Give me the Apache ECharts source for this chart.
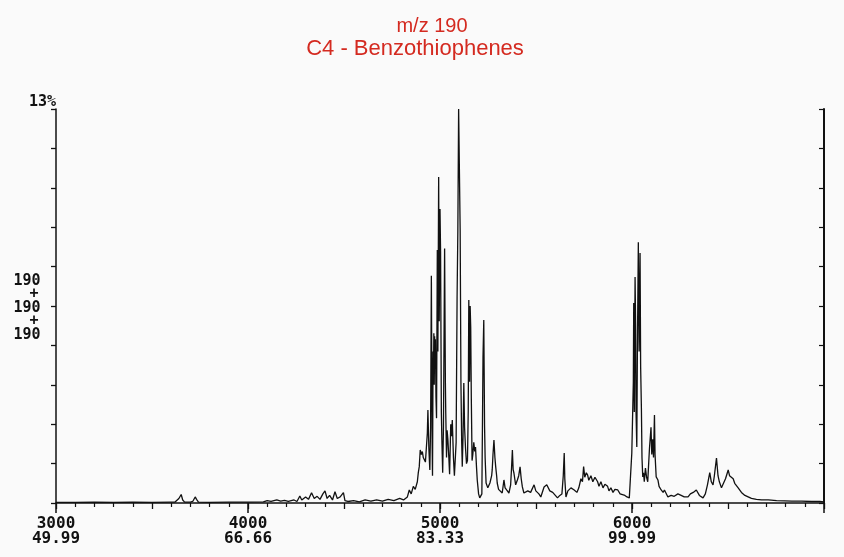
<!DOCTYPE html>
<html>
<head>
<meta charset="utf-8">
<script src="https://cdn.jsdelivr.net/npm/echarts@6/dist/echarts.min.js"></script>
<style>
html,body{margin:0;padding:0;background:#fafafa;}
#c{width:844px;height:557px;}
</style>
</head>
<body>
<div id="c"></div>
<script>
// Scan numbers (x) and relative intensity in % (y)
const scans = [
3000,3100,3200,3300,3400,3500,3600,3620,3640,3652,3660,3670,3700,3712,3725,3732,3742,3800,3900,4000,
4080,4100,4120,4150,4170,4190,4210,4240,4255,4270,4280,4300,4315,4331,4345,4360,4375,4390,4401,4412,
4425,4440,4453,4465,4480,4497,4505,4520,4550,4580,4610,4640,4670,4700,4730,4760,4790,4810,4830,
4840,4850,4861,4871,4882,4887,4892,4897,4903,4908,4913,4918,4924,4929,4934,4937,4942,4947,4951,4955,
4959,4961,4964,4966,4968,4970,4972,4974,4976,4979,4982,4986,4989,4993,4996,5000,5003,5007,5010,5014,
5018,5024,5028,5030,5034,5037,5041,5046,5050,5056,5060,5064,5070,5075,5080,5084,5089,5093,5097,5101,
5105,5109,5113,5116,5120,5124,5128,5133,5138,5143,5147,5150,5154,5157,5160,5163,5167,5171,5176,5181,
5185,5190,5194,5201,5207,5213,5218,5221,5224,5228,5232,5235,5240,5249,5260,5269,5272,5276,5281,5286,
5290,5295,5298,5305,5312,5324,5333,5339,5347,5359,5368,5373,5377,5381,5385,5394,5403,5410,5417,5423,
5429,5437,5446,5457,5472,5490,5499,5515,5525,5542,5556,5572,5587,5612,5624,5635,5642,5647,5650,5656,
5666,5682,5699,5713,5723,5734,5742,5748,5754,5762,5769,5775,5786,5796,5807,5821,5828,5838,5849,5859,
5873,5880,5890,5901,5911,5926,5938,5948,5963,5974,5986,5995,5999,6004,6007,6009,6012,6016,6019,6021,
6025,6028,6033,6037,6042,6045,6049,6052,6056,6060,6064,6070,6076,6082,6086,6091,6099,6103,6108,6112,
6117,6120,6126,6135,6141,6152,6162,6169,6187,6204,6220,6239,6256,6272,6292,6304,6319,6335,6351,6370,
6382,6393,6405,6413,6422,6429,6440,6448,6455,6466,6476,6487,6501,6508,6518,6527,6535,6544,6553,6570,
6588,6605,6622,6648,6675,6710,6753,6795,6832,6884,6936,6978,7000
];
const intensity = [
0.02,0.02,0.03,0.02,0.03,0.02,0.03,0.03,0.15,0.28,0.10,0.03,0.03,0.05,0.20,0.12,0.03,0.02,0.03,0.03,
0.04,0.08,0.05,0.10,0.06,0.09,0.05,0.10,0.05,0.23,0.10,0.20,0.12,0.34,0.15,0.22,0.12,0.30,0.40,0.15,
0.25,0.10,0.37,0.15,0.20,0.34,0.08,0.05,0.08,0.04,0.10,0.06,0.10,0.06,0.12,0.08,0.15,0.10,0.20,
0.43,0.30,0.55,0.45,0.70,1.00,1.20,1.75,1.60,1.70,1.50,1.55,1.35,1.40,2.30,3.07,1.80,1.09,2.50,7.50,
2.00,0.90,5.00,4.20,5.60,3.90,5.50,4.50,5.40,3.50,2.80,8.35,5.00,10.76,6.00,9.70,8.30,3.00,2.00,1.00,
2.50,8.40,4.00,2.97,1.50,2.40,2.10,1.50,0.95,2.60,2.20,2.74,1.50,0.90,0.85,2.00,6.80,9.00,13.00,11.00,
9.00,4.00,2.00,1.20,2.20,3.96,2.50,1.80,1.30,1.40,3.00,6.70,4.00,6.50,5.80,3.50,1.40,1.60,2.00,1.70,
1.85,1.20,0.76,0.30,0.17,0.20,0.30,2.50,4.80,6.04,2.57,1.50,0.66,0.50,0.66,0.90,1.10,1.60,2.08,1.50,
1.20,0.90,0.66,0.45,0.43,0.33,0.76,0.50,0.43,0.33,0.60,1.20,1.75,1.10,0.99,0.60,0.76,0.90,1.19,0.80,
0.53,0.33,0.33,0.40,0.35,0.60,0.40,0.30,0.20,0.53,0.60,0.40,0.35,0.17,0.25,0.30,0.90,1.65,0.80,0.20,
0.40,0.50,0.43,0.35,0.50,0.80,0.70,1.20,0.85,1.00,0.92,0.75,0.90,0.70,0.85,0.70,0.55,0.70,0.50,0.62,
0.55,0.40,0.50,0.35,0.45,0.43,0.30,0.35,0.25,0.20,0.17,0.15,1.65,1.65,4.00,6.60,3.00,7.46,5.80,3.00,
1.85,5.00,8.60,5.00,8.25,4.50,3.10,1.50,0.86,1.00,0.70,1.15,0.85,0.70,1.20,1.80,2.50,1.60,2.10,1.50,
2.90,1.60,0.86,0.76,0.55,0.43,0.35,0.43,0.20,0.25,0.22,0.30,0.25,0.20,0.20,0.30,0.35,0.43,0.25,0.17,
0.30,0.60,1.00,0.70,0.60,0.90,1.48,0.90,0.70,0.50,0.50,0.80,1.09,0.90,0.95,0.80,0.65,0.60,0.50,0.35,
0.25,0.20,0.15,0.12,0.10,0.10,0.08,0.07,0.06,0.06,0.05,0.05,0.04
];
// Axis tick labels: scan number and retention time (min)
const scanTicks = [3000, 4000, 5000, 6000];
const timeTicks = ['49.99', '66.66', '83.33', '99.99'];
const titleLines = ['m/z 190', 'C4 - Benzothiophenes'];
const yMaxLabel = '13%';
const massLabels = ['190', '+', '190', '+', '190'];

const chart = echarts.init(document.getElementById('c'));
const data = scans.map((s, i) => [s, intensity[i]]);
const mono = '"DejaVu Sans Mono", "Liberation Mono", monospace';
const sans = '"Liberation Sans", Arial, sans-serif';

const massGraphics = massLabels.map((t, i) => ({
  type: 'text',
  x: t === '+' ? 34 : 27,
  y: 281 + i * 13.5,
  style: { text: t, font: 'bold 15px ' + mono, fill: '#111', align: 'center', verticalAlign: 'middle' }
}));

chart.setOption({
  backgroundColor: '#fafafa',
  animation: false,
  grid: { left: 56, right: 20, top: 109, bottom: 54 },
  xAxis: [
    {
      type: 'value', min: 3000, max: 7000, interval: 1000, position: 'bottom',
      axisLine: { lineStyle: { color: '#111', width: 1.6 } },
      axisTick: { show: true, length: 10, lineStyle: { color: '#111', width: 1.5 } },
      splitLine: { show: false },
      axisLabel: {
        margin: 13, color: '#111', fontFamily: mono, fontWeight: 'bold', fontSize: 16, lineHeight: 15,
        formatter: v => { const i = scanTicks.indexOf(v); return i < 0 ? '' : scanTicks[i] + '\n' + timeTicks[i]; }
      }
    },
    {
      type: 'value', min: 3000, max: 7000, interval: 500, position: 'bottom',
      axisLine: { show: false },
      axisTick: { show: true, length: 6, lineStyle: { color: '#111', width: 1.3 } },
      minorTick: { show: true, splitNumber: 5, length: 4, lineStyle: { color: '#111', width: 1.2 } },
      splitLine: { show: false },
      axisLabel: { show: false }
    }
  ],
  yAxis: [
    {
      type: 'value', min: 0, max: 13, interval: 1.3, position: 'left',
      axisLine: { show: true, lineStyle: { color: '#111', width: 1.5 } },
      axisTick: { show: true, inside: false, length: 5, lineStyle: { color: '#111', width: 1.3 } },
      splitLine: { show: false },
      axisLabel: { show: false }
    },
    {
      type: 'value', min: 0, max: 13, interval: 1.3, position: 'right',
      axisLine: { show: true, lineStyle: { color: '#111', width: 2 } },
      axisTick: { show: true, inside: true, length: 5, lineStyle: { color: '#111', width: 1.2 } },
      splitLine: { show: false },
      axisLabel: { show: false }
    }
  ],
  graphic: [
    { type: 'text', x: 432, y: 26, style: { text: titleLines[0], font: '20px ' + sans, fill: '#d42a20', align: 'center', verticalAlign: 'middle' } },
    { type: 'text', x: 415, y: 49, style: { text: titleLines[1], font: '22px ' + sans, fill: '#d42a20', align: 'center', verticalAlign: 'middle' } },
    { type: 'text', x: 56, y: 102, style: { text: yMaxLabel, font: 'bold 15px ' + mono, fill: '#111', align: 'right', verticalAlign: 'middle' } }
  ].concat(massGraphics),
  series: [{
    type: 'line', xAxisIndex: 0, yAxisIndex: 0, data: data,
    showSymbol: false, symbol: 'none',
    lineStyle: { color: '#111', width: 1.3 },
    silent: true
  }]
});
</script>
</body>
</html>
